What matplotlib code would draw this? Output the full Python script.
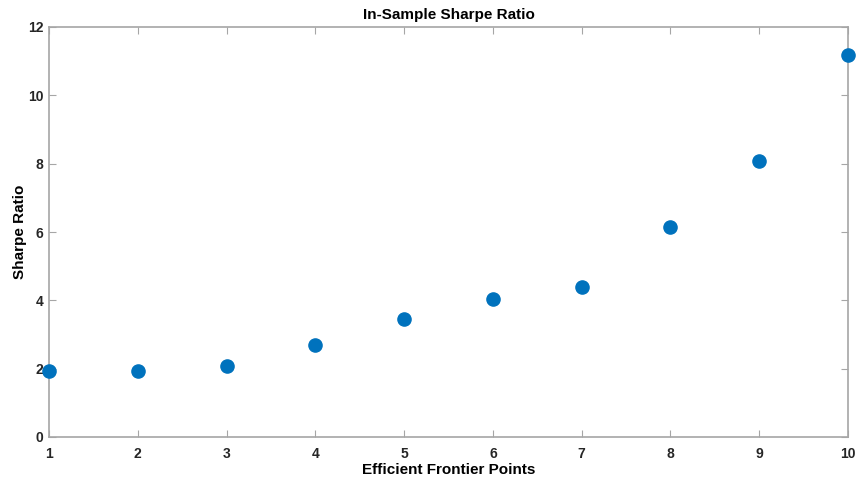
import numpy as np
import matplotlib.pyplot as plt

points = [1, 2, 3, 4, 5, 6, 7, 8, 9, 10]
sharpe = [1.93, 1.93, 2.08, 2.69, 3.45, 4.04, 4.39, 6.15, 8.08, 11.18]

plt.rcParams['font.family'] = ['Liberation Sans', 'DejaVu Sans']
plt.rcParams['font.weight'] = 'bold'

fig = plt.figure(figsize=(8.58, 4.79), dpi=100)
ax = fig.add_axes([49/858, 42/479, 799/858, 410/479])

ax.scatter(points, sharpe, s=90, color='#0072BD', zorder=3, clip_on=False)

ax.set_xlim(1, 10)
ax.set_ylim(0, 12)
ax.set_xticks(points)
ax.set_yticks(np.arange(0, 13, 2))

for s in ax.spines.values():
    s.set_color('#a6a6a6')
    s.set_linewidth(1.2)
ax.tick_params(direction='in', top=True, right=True, color='#a6a6a6',
               length=5, labelsize=10, labelcolor='#262626')
ax.tick_params(axis='x', pad=7)
ax.tick_params(axis='y', pad=4)

ax.set_title("In-Sample Sharpe Ratio", fontsize=11, fontweight='bold', pad=6)
ax.set_xlabel("Efficient Frontier Points", fontsize=11, fontweight='bold', labelpad=2)
ax.set_ylabel("Sharpe Ratio", fontsize=11, fontweight='bold', labelpad=1)

fig.savefig("out.png", dpi=100)
